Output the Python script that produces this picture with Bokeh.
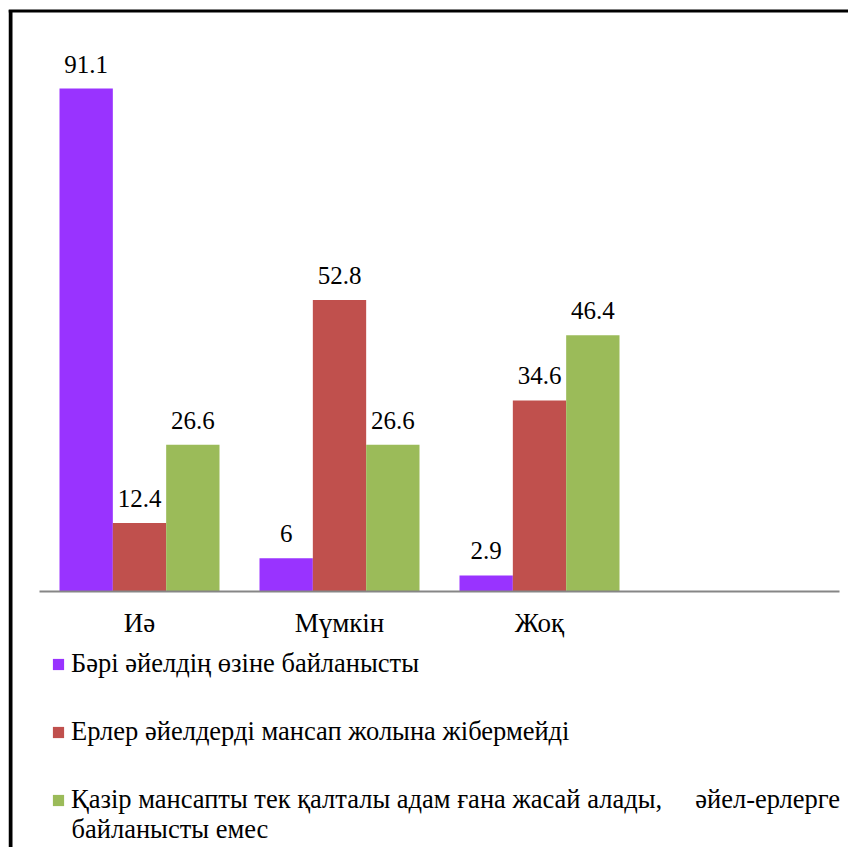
import numpy as np
from bokeh.plotting import figure
from bokeh.models import ColumnDataSource, Range1d, Legend, LegendItem, LabelSet, Label
from bokeh.embed import file_html
from bokeh.resources import INLINE

categories = ["Иә", "Мүмкін", "Жоқ"]
series_names = [
    "Бәрі әйелдің өзіне байланысты",
    "Ерлер әйелдерді мансап жолына жібермейді",
    "Қазір мансапты тек қалталы адам ғана жасай алады,     әйел-ерлерге",
]
series_name_cont = "байланысты емес"
s1 = [91.1, 6, 2.9]
s2 = [12.4, 52.8, 34.6]
s3 = [26.6, 26.6, 46.4]
colors = ["#9933FF", "#C0504D", "#9BBB59"]
n_slots = 4  # the category axis has one empty slot at the right

FONT = "'Liberation Serif', 'Times New Roman', serif"
W, H = 848, 847
ML, MT = 8, 8                 # white margin inside the picture
AX_LEFT, AX_Y = 39, 591       # pixel position of axis start / baseline
SLOT_PX = 200.0               # pixels per category slot
Y_PX = 503.0 / 91.1           # pixels per percent

x_start = -(AX_LEFT - ML) / SLOT_PX
x_end = (W - AX_LEFT) / SLOT_PX
y_end = (AX_Y - MT) / Y_PX
y_start = -(H - AX_Y) / Y_PX

p = figure(
    x_range=Range1d(x_start, x_end), y_range=Range1d(y_start, y_end),
    width=W, height=H, output_backend="svg", toolbar_location=None,
    min_border_left=ML, min_border_top=MT, min_border_right=0, min_border_bottom=0,
)
p.outline_line_color = None
p.xgrid.grid_line_color = None
p.ygrid.grid_line_color = None
p.xaxis.visible = False
p.yaxis.visible = False

# frame of the chart area (top and left edges)
px_x = 1.0 / SLOT_PX
px_y = 1.0 / Y_PX
p.line(x=[x_start + 2 * px_x] * 2, y=[y_start, y_end - 1.5 * px_y], line_color="black", line_width=4)
p.line(x=[x_start, x_end], y=[y_end - 2.5 * px_y] * 2, line_color="black", line_width=3)

xc = np.arange(len(categories)) + 0.5
src = ColumnDataSource(dict(
    x=xc, cat=categories, zero=[0] * len(categories), s1=s1, s2=s2, s3=s3,
    l1=[f"{v:g}" for v in s1], l2=[f"{v:g}" for v in s2], l3=[f"{v:g}" for v in s3],
))

bw = 0.8 / 3
items = []
for i, (key, lab, col) in enumerate(zip(["s1", "s2", "s3"], ["l1", "l2", "l3"], colors)):
    off = (i - 1) * bw
    src.data[f"x{i}"] = xc + off
    r = p.vbar(x=f"x{i}", top=key, bottom=0, width=bw, source=src,
               fill_color=col, line_color=None)
    items.append(LegendItem(label=series_names[i], renderers=[r]))
    p.add_layout(LabelSet(x=f"x{i}", y=key, text=lab, source=src,
                          text_align="center", text_baseline="alphabetic", y_offset=16,
                          text_font=FONT, text_font_size="25px", text_color="black"))

# category axis line and labels
p.line(x=[0, n_slots], y=[0, 0], line_color="#868686", line_width=2)
p.add_layout(LabelSet(x="x", y="zero", text="cat", source=src, text_align="center",
                      text_baseline="middle", y_offset=-31,
                      text_font=FONT, text_font_size="27px", text_color="black"))

legend = Legend(items=items, location=(43, 32), orientation="vertical")
legend.label_text_font = FONT
legend.label_text_font_size = "26.5px"
legend.label_text_color = "black"
legend.glyph_width = 14
legend.glyph_height = 14
legend.label_standoff = 6
legend.label_height = 26
legend.spacing = 37
legend.margin = 0
legend.padding = 0
legend.border_line_color = None
legend.background_fill_alpha = 0
p.add_layout(legend, "center")

p.add_layout(Label(x=(71 - AX_LEFT) / SLOT_PX, y=-(828 - AX_Y) / Y_PX, text=series_name_cont,
                   text_baseline="middle", text_font=FONT, text_font_size="26.5px", text_color="black"))

open("out.html", "w").write(file_html(p, INLINE))
